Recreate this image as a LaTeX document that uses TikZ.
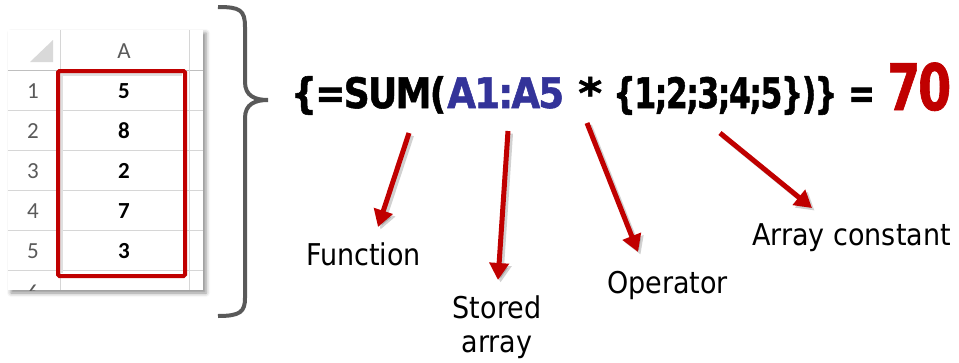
\documentclass[tikz,border=0pt]{standalone}
\usepackage{fontspec}
\usepackage{graphicx}
\usetikzlibrary{arrows.meta,shadows.blur}

\newfontfamily\labelfont{DejaVu Sans}[FakeStretch=0.9]
\newfontfamily\formfont{DejaVu Sans}[LetterSpace=-5, FakeBold=1.3]
\newfontfamily\cellfont{Carlito}

\definecolor{accentred}{RGB}{192,0,0}
\definecolor{refblue}{RGB}{51,51,153}
\definecolor{gridgray}{RGB}{214,214,214}
\definecolor{headgray}{RGB}{90,90,90}
\definecolor{bracegray}{RGB}{89,89,89}

\tikzset{
  gridline/.style={draw=gridgray, line width=1pt},
  headtext/.style={font=\cellfont\fontsize{23}{23}\selectfont, text=headgray, inner sep=0pt},
  celltext/.style={font=\cellfont\bfseries\fontsize{23}{23}\selectfont, text=black, inner sep=0pt},
  formula/.style={font=\formfont\bfseries\fontsize{42}{42}\selectfont, inner sep=0pt, anchor=base west},
  lbl/.style={font=\labelfont\fontsize{30}{34}\selectfont, inner sep=0pt},
  callout/.style={draw=accentred, line width=5pt, -{Triangle[length=17pt,width=19pt]}},
  calloutshadow/.style={draw=black, opacity=0.18, line width=5pt, -{Triangle[length=17pt,width=19pt]},
    transform canvas={shift={(2.5pt,-2.5pt)}}},
}

\begin{document}
\begin{tikzpicture}[x=1pt,y=-1pt]
\useasboundingbox (0,0) rectangle (959,362);

% spreadsheet sheet with drop shadow
\fill[white, blur shadow={shadow xshift=3pt, shadow yshift=-3pt, shadow blur radius=4pt, shadow opacity=45}]
  (8,30) rectangle (203,290);

\begin{scope}
  \clip (8,30) rectangle (203,290);
  % grid
  \foreach \yy in {110,150,190,230,270}
    \draw[gridline] (8,\yy) -- (203,\yy);
  \draw[draw=black!25, line width=1pt] (8,70) -- (203,70);
  \draw[gridline] (60,30) -- (60,290);
  \draw[gridline] (189,30) -- (189,290);
  % corner triangle of the header
  \fill[black!15] (30,62) -- (53,62) -- (53,40) -- cycle;
  % column header
  \node[headtext] (colA) at (124,51) {A};
  % row numbers and values
  \foreach \v [count=\i] in {5,8,2,7,3} {
    \node[headtext] (row\i) at (33,51+40*\i) {\i};
    \node[celltext] (val\i) at (124,51+40*\i) {\v};
  }
  \node[headtext] (row6) at (33,293) {6};
\end{scope}

% highlighted range
\draw[black!12, line width=3pt] (61.5,273) -- (61.5,74.5) -- (182,74.5);
\draw[accentred, line width=4pt, rounded corners=1.5pt] (58,71) rectangle (185,276);

% grouping brace
\draw[bracegray, line width=4pt]
  (218,7) .. controls (240,7) and (245,10) .. (245,27) -- (245,82)
  .. controls (245,96) and (255,100) .. (268,100)
  .. controls (255,100) and (245,104) .. (245,118) -- (245,298)
  .. controls (245,312) and (240,316) .. (218,316);

% array formula
\node[formula] (fsum) at (291,108) {\resizebox{155pt}{\height}{\{=SUM(}};
\node[formula, text=refblue] (fref) at (447,108) {\resizebox{117pt}{\height}{A1:A5}};
\node[formula] (fmul) at (578,108) {\resizebox{24pt}{\height}{*}};
\node[formula] (fconst) at (613,108) {\resizebox{224pt}{\height}{\{1;2;3;4;5\})\}}};
\node[formula] (feq) at (848,108) {\resizebox{27pt}{\height}{=}};
\node[formula, text=accentred, font=\formfont\bfseries\fontsize{64}{64}\selectfont] (fres) at (887,110)
  {\resizebox{64pt}{\height}{70}};

% labels
\node[lbl, anchor=base west] (lfunc) at (306,265) {Function};
\node[lbl, anchor=north, align=center] (lstored) at (497,296) {Stored\\array};
\node[lbl, anchor=base west] (loper) at (607,293) {Operator};
\node[lbl, anchor=base west] (lconst) at (752,245) {Array constant};

% callout arrows
\coordinate (funcA) at (409,133); \coordinate (funcB) at (378,227);
\coordinate (storA) at (508,131); \coordinate (storB) at (498,280);
\coordinate (operA) at (587,123); \coordinate (operB) at (638,252);
\coordinate (constA) at (720,133); \coordinate (constB) at (812,208);

\foreach \p in {func,stor,oper,const} {
  \draw[calloutshadow] (\p A) -- (\p B);
}
\foreach \p in {func,stor,oper,const} {
  \draw[callout] (\p A) -- (\p B);
}
\end{tikzpicture}
\end{document}
